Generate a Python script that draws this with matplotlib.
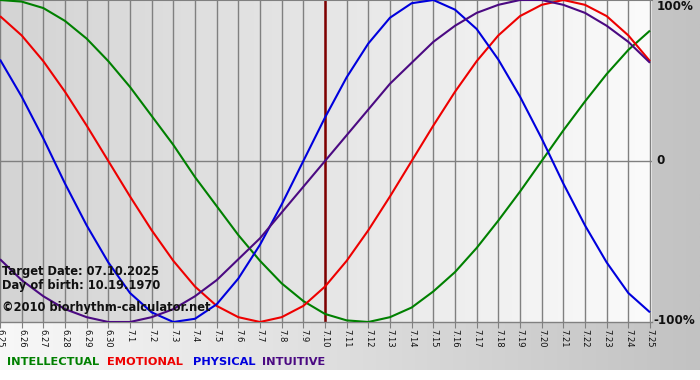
import numpy as np
import matplotlib
matplotlib.use("Agg")
import matplotlib.pyplot as plt
from matplotlib.colors import LinearSegmentedColormap

# -----------------------------
# Data (daily values, -1..1), 6.25 -> 7.25
# -----------------------------
dates = ["6.25", "6.26", "6.27", "6.28", "6.29", "6.30",
         "7.1", "7.2", "7.3", "7.4", "7.5", "7.6", "7.7", "7.8", "7.9", "7.10",
         "7.11", "7.12", "7.13", "7.14", "7.15", "7.16", "7.17", "7.18", "7.19",
         "7.20", "7.21", "7.22", "7.23", "7.24", "7.25"]
target_date = "7.10"

physical = [0.63, 0.40, 0.14, -0.14, -0.40, -0.63, -0.82, -0.94, -1.00, -0.98,
            -0.89, -0.73, -0.52, -0.27, 0.00, 0.27, 0.52, 0.73, 0.89, 0.98,
            1.00, 0.94, 0.82, 0.63, 0.40, 0.14, -0.14, -0.40, -0.63, -0.82, -0.94]
emotional = [0.90, 0.78, 0.62, 0.43, 0.22, 0.00, -0.22, -0.43, -0.62, -0.78,
             -0.90, -0.97, -1.00, -0.97, -0.90, -0.78, -0.62, -0.43, -0.22, 0.00,
             0.22, 0.43, 0.62, 0.78, 0.90, 0.97, 1.00, 0.97, 0.90, 0.78, 0.62]
intellectual = [1.00, 0.99, 0.95, 0.87, 0.76, 0.62, 0.46, 0.28, 0.10, -0.10,
                -0.28, -0.46, -0.62, -0.76, -0.87, -0.95, -0.99, -1.00, -0.97, -0.91,
                -0.81, -0.69, -0.54, -0.37, -0.19, 0.00, 0.19, 0.37, 0.54, 0.69, 0.81]
intuitive = [-0.61, -0.74, -0.84, -0.92, -0.97, -1.00, -1.00, -0.97, -0.92, -0.84,
             -0.74, -0.61, -0.48, -0.32, -0.16, 0.00, 0.16, 0.32, 0.48, 0.61,
             0.74, 0.84, 0.92, 0.97, 1.00, 1.00, 0.97, 0.92, 0.84, 0.74, 0.61]

series = [("INTELLECTUAL", intellectual, "#008000"),
          ("EMOTIONAL", emotional, "#ee0000"),
          ("PHYSICAL", physical, "#0000dd"),
          ("INTUITIVE", intuitive, "#4b0a82")]

W, H = 700, 380
fig = plt.figure(figsize=(W / 100, H / 100), dpi=100)
fig.patch.set_facecolor("white")

def px(x, y):
    return x / W, 1 - y / H

# figure background gradient (white-ish left -> gray right), white strip at bottom
bg = fig.add_axes([0, 10 / H, 1, 1 - 10 / H], zorder=0)
bg_cmap = LinearSegmentedColormap.from_list("bg", ["#f8f8f8", "#c2c2c2"])
bg.imshow(np.linspace(0, 1, 256)[None, :], aspect="auto", cmap=bg_cmap,
          extent=[0, 1, 0, 1])
bg.axis("off")

# plot area
ax = fig.add_axes([0, 58 / H, 652 / W, 322 / H], zorder=1)
x = np.arange(len(dates))
xmax = 30 * 652 / 650
ax.set_xlim(0, xmax)
ax.set_ylim(-1.0, 1.0)

pa_cmap = LinearSegmentedColormap.from_list("pa", ["#d4d4d4", "#e6e6e6", "#fbfbfb"])
ax.imshow(np.linspace(0, 1, 256)[None, :], aspect="auto", cmap=pa_cmap,
          extent=[0, xmax, -1, 1], zorder=0)

for xi in x:
    ax.axvline(xi, color="#808080", lw=1, zorder=1)
ax.axhline(0, color="#808080", lw=1, zorder=1)
ax.axvline(dates.index(target_date), color="#800000", lw=1.8, zorder=2)

for name, vals, col in series:
    ax.plot(x, vals, color=col, lw=1.5, zorder=3, solid_capstyle="butt")

for s in ["left", "right"]:
    ax.spines[s].set_visible(False)
ax.spines["top"].set_color("#808080")
ax.spines["top"].set_linewidth(1.5)
ax.spines["bottom"].set_color("#808080")
ax.spines["bottom"].set_linewidth(1)

ax.set_yticks([])
ax.set_xticks(x)
ax.set_xticklabels(dates, rotation=-90, fontsize=6, color="#111111")
ax.tick_params(axis="x", direction="out", length=4, color="#808080", pad=1)

# right-side percent labels
for lbl, lx, yy in [("100%", 657, 7), ("0", 656, 161), ("-100%", 653, 321)]:
    fig.text(*px(lx, yy), lbl, fontsize=8.6, fontweight="bold",
             color="#111111", va="center", ha="left")

# info text
info = [("Target Date: 07.10.2025", 272), ("Day of birth: 10.19.1970", 286),
        ("\u00a92010 biorhythm-calculator.net", 307)]
for txt, yy in info:
    fig.text(*px(2, yy), txt, fontsize=8.3, fontweight="bold",
             color="#111111", va="center", ha="left", zorder=5)

# legend words
leg_x = [7, 107, 193, 262]
for (name, vals, col), lx in zip(series, leg_x):
    fig.text(*px(lx, 362), name, fontsize=8.2, fontweight="bold", color=col,
             va="center", ha="left")

fig.savefig("out.png", dpi=100)
